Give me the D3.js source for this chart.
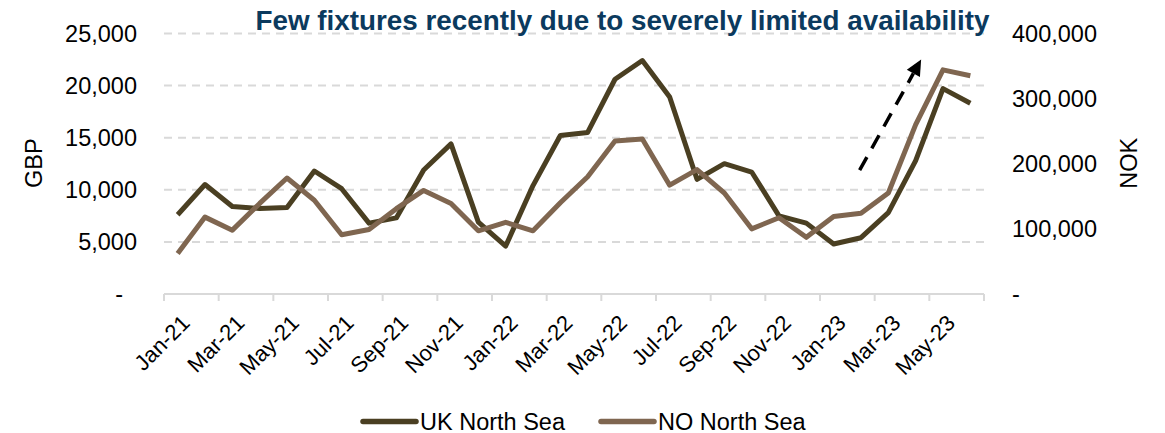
<!DOCTYPE html>
<html>
<head>
<meta charset="utf-8">
<script src="https://cdn.jsdelivr.net/npm/d3@7/dist/d3.min.js"></script>
<style>
  html, body { margin: 0; padding: 0; background: #ffffff; }
  svg { display: block; }
  text { font-family: "Liberation Sans", Arial, Helvetica, sans-serif; fill: #000; }
</style>
</head>
<body>
<svg id="chart" width="1165" height="433"></svg>
<script>
// Monthly categories (Jan-21 .. Jun-23)
const months = ["Jan-21","Feb-21","Mar-21","Apr-21","May-21","Jun-21","Jul-21","Aug-21","Sep-21","Oct-21","Nov-21","Dec-21",
                "Jan-22","Feb-22","Mar-22","Apr-22","May-22","Jun-22","Jul-22","Aug-22","Sep-22","Oct-22","Nov-22","Dec-22",
                "Jan-23","Feb-23","Mar-23","Apr-23","May-23","Jun-23"];

// UK North Sea day rates, GBP (left axis)
const ukNorthSea = [7600, 10500, 8400, 8200, 8300, 11800, 10100, 6800, 7300, 11900, 14400, 6900,
                    4600, 10400, 15200, 15500, 20600, 22400, 18900, 11000, 12500, 11700, 7500, 6800,
                    4800, 5400, 7800, 12800, 19700, 18300];

// NO North Sea day rates, NOK (right axis)
const noNorthSea = [62000, 118000, 98000, 139000, 178000, 144000, 91000, 99000, 131000, 159000, 139000, 97000,
                    110000, 97000, 140000, 180000, 235000, 238000, 167000, 191000, 155000, 100000, 117000, 87000,
                    119000, 124000, 155000, 260000, 344000, 335000];

const gbpTicks = [0, 5000, 10000, 15000, 20000, 25000];
const nokTicks = [0, 100000, 200000, 300000, 400000];
const xTickLabels = months.filter((m, i) => i % 2 === 0);

const seriesNames = ["UK North Sea", "NO North Sea"];
const seriesColors = ["#4a3f22", "#7f6650"];
const titleText = "Few fixtures recently due to severely limited availability";

const svg = d3.select("#chart");
const plot = { left: 164, right: 984, top: 33.4, bottom: 294 };

const x = d3.scaleBand().domain(months).range([plot.left, plot.right]).padding(0);
const xc = m => x(m) + x.bandwidth() / 2;
// continuous index scale for annotation placement
const xi = d3.scaleLinear().domain([0, months.length - 1]).range([xc(months[0]), xc(months[months.length - 1])]);

const yL = d3.scaleLinear().domain([0, 25000]).range([plot.bottom, plot.top]);
const yR = d3.scaleLinear().domain([0, 400000]).range([plot.bottom, plot.top]);

const fmt = d3.format(",");
const axisFont = "23.5px";

// dashed horizontal gridlines
svg.append("g").selectAll("line")
  .data(gbpTicks.filter(d => d > 0))
  .join("line")
  .attr("x1", plot.left).attr("x2", plot.right)
  .attr("y1", d => yL(d)).attr("y2", d => yL(d))
  .attr("stroke", "#d9d9d9").attr("stroke-width", 2)
  .attr("stroke-dasharray", "8,6");

// category axis line with tick marks every second month
const xAxisG = svg.append("g");
xAxisG.append("line")
  .attr("x1", plot.left).attr("x2", plot.right)
  .attr("y1", plot.bottom).attr("y2", plot.bottom)
  .attr("stroke", "#d9d9d9").attr("stroke-width", 2);
xAxisG.selectAll("line.tick")
  .data(d3.range(0, months.length + 1, 2))
  .join("line").attr("class", "tick")
  .attr("x1", i => plot.left + i * x.step()).attr("x2", i => plot.left + i * x.step())
  .attr("y1", plot.bottom).attr("y2", plot.bottom + 7)
  .attr("stroke", "#d9d9d9").attr("stroke-width", 2);

xAxisG.selectAll("text")
  .data(xTickLabels)
  .join("text")
  .attr("transform", m => `translate(${xc(m) + 8},${plot.bottom + 25}) rotate(-45)`)
  .attr("text-anchor", "end")
  .attr("dy", "0.35em")
  .style("font-size", "22px")
  .text(m => m);

// left axis labels (GBP)
svg.append("g").selectAll("text")
  .data(gbpTicks)
  .join("text")
  .attr("x", d => d === 0 ? 123 : 137)
  .attr("y", d => yL(d))
  .attr("dy", "0.36em")
  .attr("text-anchor", "end")
  .style("font-size", axisFont)
  .text(d => d === 0 ? "-" : fmt(d));

// right axis labels (NOK)
svg.append("g").selectAll("text")
  .data(nokTicks)
  .join("text")
  .attr("x", 1012)
  .attr("y", d => yR(d))
  .attr("dy", "0.36em")
  .attr("text-anchor", "start")
  .style("font-size", axisFont)
  .text(d => d === 0 ? "-" : fmt(d));

// axis titles
svg.append("text")
  .attr("transform", `translate(42,${(plot.top + plot.bottom) / 2 - 0.5}) rotate(-90)`)
  .attr("text-anchor", "middle")
  .style("font-size", axisFont)
  .text("GBP");
svg.append("text")
  .attr("transform", `translate(1136.5,${(plot.top + plot.bottom) / 2 - 0.5}) rotate(-90)`)
  .attr("text-anchor", "middle")
  .style("font-size", axisFont)
  .text("NOK");

// series lines
const lineL = d3.line().x((d, i) => xc(months[i])).y(d => yL(d));
const lineR = d3.line().x((d, i) => xc(months[i])).y(d => yR(d));

svg.append("path")
  .datum(ukNorthSea)
  .attr("d", lineL)
  .attr("fill", "none").attr("stroke", seriesColors[0])
  .attr("stroke-width", 5).attr("stroke-linejoin", "round");
svg.append("path")
  .datum(noNorthSea)
  .attr("d", lineR)
  .attr("fill", "none").attr("stroke", seriesColors[1])
  .attr("stroke-width", 5).attr("stroke-linejoin", "round");

// trend arrow annotation
const a0 = [xi(24.95), yR(190000)];
const a1 = [xi(27.2), yR(360000)];
const dx = a1[0] - a0[0], dy = a1[1] - a0[1];
const len = Math.hypot(dx, dy);
const ux = dx / len, uy = dy / len;
const headLen = 16, headHalf = 7.5;
const base = [a1[0] - ux * headLen, a1[1] - uy * headLen];
svg.append("line")
  .attr("x1", a0[0]).attr("y1", a0[1])
  .attr("x2", base[0]).attr("y2", base[1])
  .attr("stroke", "#000").attr("stroke-width", 3.5)
  .attr("stroke-dasharray", "15,10");
svg.append("path")
  .attr("d", `M${a1[0]},${a1[1]}L${base[0] - uy * headHalf},${base[1] + ux * headHalf}L${base[0] + uy * headHalf},${base[1] - ux * headHalf}Z`)
  .attr("fill", "#000");

// title
svg.append("text")
  .attr("x", 622.5).attr("y", 30)
  .attr("text-anchor", "middle")
  .style("font-size", "27.8px").style("font-weight", "bold")
  .style("fill", "#0b3a5e")
  .text(titleText);

// legend
const legend = svg.append("g");
const legendItems = [
  { name: seriesNames[0], color: seriesColors[0], x0: 363 },
  { name: seriesNames[1], color: seriesColors[1], x0: 601 }
];
legendItems.forEach(it => {
  legend.append("line")
    .attr("x1", it.x0).attr("x2", it.x0 + 53)
    .attr("y1", 421.5).attr("y2", 421.5)
    .attr("stroke", it.color).attr("stroke-width", 5.5).attr("stroke-linecap", "round");
  legend.append("text")
    .attr("x", it.x0 + 57).attr("y", 429.5)
    .style("font-size", axisFont)
    .text(it.name);
});
</script>
</body>
</html>
